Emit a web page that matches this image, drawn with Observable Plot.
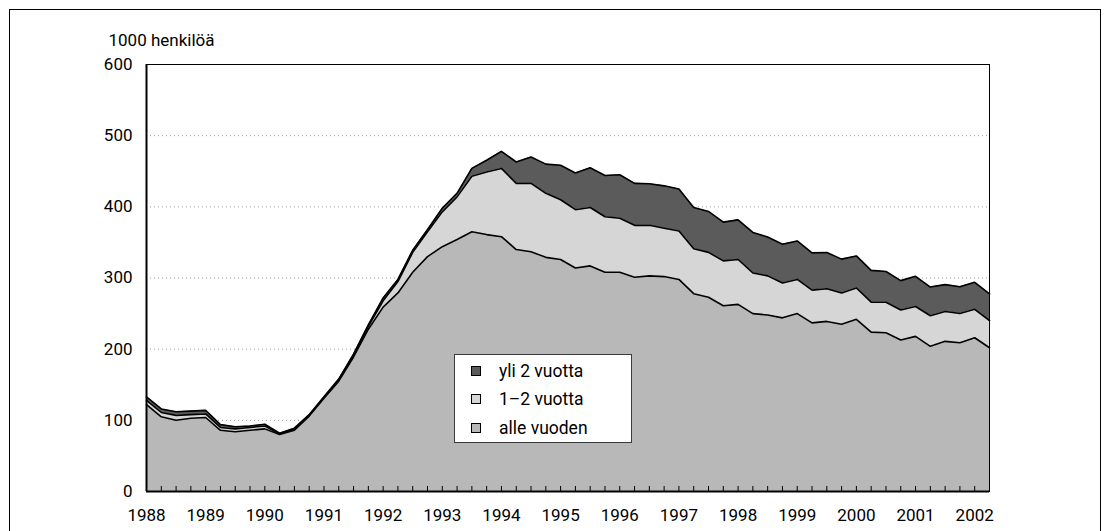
<!DOCTYPE html>
<html><head><meta charset="utf-8">
<script src="https://cdn.jsdelivr.net/npm/d3@7"></script>
<script src="https://cdn.jsdelivr.net/npm/@observablehq/plot@0.6"></script>
<style>
html,body{margin:0;padding:0;background:#fff;}
#wrap{position:relative;width:1109px;height:531px;overflow:hidden;font-family:Roboto,sans-serif;}
#chart{position:absolute;left:0;top:0;}
#border{position:absolute;left:9px;top:9px;width:1090px;height:600px;border:1px solid #000;pointer-events:none;}
#legend{position:absolute;left:454px;top:354px;width:178px;height:89px;border:1px solid #3a3a3a;background:#fff;box-sizing:border-box;}
.row{position:absolute;left:0;height:20px;display:flex;align-items:center;font-size:17.5px;color:#000;white-space:nowrap;}
.sw{width:8px;height:8px;border:1px solid #000;margin-left:16px;margin-right:18px;}
</style></head>
<body><div id="wrap"><div id="chart"></div><div id="border"></div><div id="legend"></div></div>
<script>
const series = ["alle vuoden", "1–2 vuotta", "yli 2 vuotta"];
const colors = ["#b8b8b8", "#d6d6d6", "#5b5b5b"];
const startYear = 1988;
// quarterly values, 1000 persons, 1988Q1 .. 2002Q2
const alleVuoden = [122,105,100,103,104,86,84,86,88,80,
  86,106,131,155,189,228,259,279,308,330,
  344,354,365,361,358,340,337,329,326,314,
  317,308,308,301,303,302,298,278,273,261,
  263,250,248,244,250,237,239,235,242,224,
  223,213,218,204,211,209,216,202];
const vuotta12 = [6,6,7,5,5,4,4,4,4,1,
  2,1,1,2,3,4,9,16,28,35,
  49,60,78,88,96,93,96,90,84,82,
  82,78,76,73,71,68,68,63,63,63,
  63,57,55,49,48,46,46,44,44,42,
  43,42,42,43,42,41,40,38];
const yli2 = [5,5,5,5,5,4,3,2,2.5,1,
  1,1,1,1,1,2,4,3,3,3,
  5,5,11,16.5,24,30,37,41,48.5,51.5,
  56,58,61,59,58.5,59.5,59,58,57.5,54.5,
  55.7,57,54.7,54.5,54,52.3,50.8,47.5,45,44.7,
  43.2,41.3,42.4,40.3,37.7,37.6,38,37.6];
const yTicks = [0, 100, 200, 300, 400, 500, 600];
const gridTicks = [100, 200, 300, 400, 500];
const yearTicks = [1988,1989,1990,1991,1992,1993,1994,1995,1996,1997,1998,1999,2000,2001,2002];
const yLabel = "1000 henkilöä";

const quarter = i => startYear + i / 4;
const data = [];
[alleVuoden, vuotta12, yli2].forEach((arr, s) =>
  arr.forEach((v, i) => data.push({t: quarter(i), v, s: series[s]})));
const quarterTicks = alleVuoden.map((_, i) => quarter(i));

const chart = Plot.plot({
  width: 1109, height: 531,
  marginLeft: 146, marginRight: 120, marginTop: 64, marginBottom: 40,
  style: {fontFamily: "Roboto, sans-serif", fontSize: "17px", color: "#000", background: "transparent"},
  x: {domain: [startYear, quarterTicks[quarterTicks.length - 1]]},
  y: {domain: [0, 600]},
  color: {domain: series, range: colors},
  marks: [
    Plot.ruleY(gridTicks, {stroke: "#9a9a9a", strokeDasharray: "1,3"}),
    Plot.areaY(data, Plot.stackY({x: "t", y: "v", z: "s", fill: "s", order: series})),
    Plot.lineY(data, Plot.stackY2({x: "t", y: "v", z: "s", order: series, stroke: "#000", strokeWidth: 1.6})),
    Plot.ruleX(quarterTicks, {insetTop: 422, stroke: "#000"}),
    Plot.frame({stroke: "#000"}),
    Plot.ruleY([0], {stroke: "#000", strokeWidth: 2}),
    Plot.ruleX([startYear], {stroke: "#000", strokeWidth: 2}),
    Plot.axisY({ticks: yTicks, tickSize: 0, tickPadding: 14, label: null, tickFormat: d => String(d)}),
    Plot.axisX({ticks: yearTicks, tickSize: 0, tickPadding: 17, label: null, tickFormat: d => String(d)}),
    Plot.text([yLabel], {frameAnchor: "top-left", dx: -38, dy: -30.5, textAnchor: "start", fill: "#000", fontSize: 17})
  ]
});
document.getElementById("chart").appendChild(chart);

const legend = document.getElementById("legend");
const tops = [5.5, 34, 62.5];
[2, 1, 0].forEach((s, k) => {
  const row = document.createElement("div");
  row.className = "row";
  row.style.top = tops[k] + "px";
  const sw = document.createElement("div");
  sw.className = "sw";
  sw.style.background = colors[s];
  const label = document.createElement("span");
  label.textContent = series[s];
  row.appendChild(sw); row.appendChild(label);
  legend.appendChild(row);
});
</script>
</body></html>
